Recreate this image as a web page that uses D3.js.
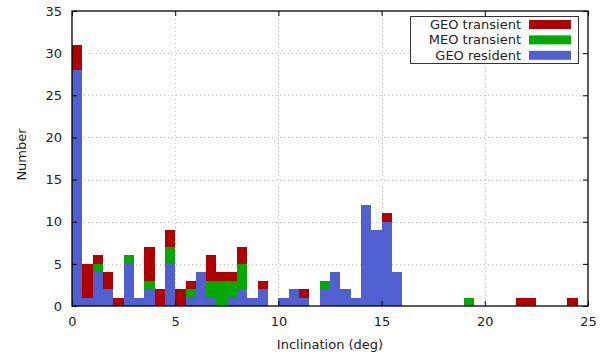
<!DOCTYPE html>
<html>
<head>
<meta charset="utf-8">
<script src="https://cdn.jsdelivr.net/npm/d3@7"></script>
<style>
  html, body { margin: 0; padding: 0; background: #fff; }
  svg { display: block; font-family: "DejaVu Sans", sans-serif; }
</style>
</head>
<body>
<svg id="chart" width="610" height="360"></svg>
<script>
// Lower edges of the 0.5-degree inclination bins (deg)
const binStarts = [
  0, 0.5, 1, 1.5, 2, 2.5, 3, 3.5, 4, 4.5,
  5, 5.5, 6, 6.5, 7, 7.5, 8, 8.5, 9, 9.5,
  10, 10.5, 11, 11.5, 12, 12.5, 13, 13.5, 14, 14.5,
  15, 15.5, 16, 16.5, 17, 17.5, 18, 18.5, 19, 19.5,
  20, 20.5, 21, 21.5, 22, 22.5, 23, 23.5, 24, 24.5
];
const binWidth = 0.5;

// Object counts per bin
const geoResident = [
  28, 1, 4, 2, 0, 5, 1, 2, 0, 5,
  0, 1, 4, 1, 0, 1, 2, 1, 2, 0,
  1, 2, 1, 0, 2, 4, 2, 1, 12, 9,
  10, 4, 0, 0, 0, 0, 0, 0, 0, 0,
  0, 0, 0, 0, 0, 0, 0, 0, 0, 0
];
const meoTransient = [
  0, 0, 1, 0, 0, 1, 0, 1, 0, 2,
  0, 1, 0, 2, 3, 2, 3, 0, 0, 0,
  0, 0, 0, 0, 1, 0, 0, 0, 0, 0,
  0, 0, 0, 0, 0, 0, 0, 0, 1, 0,
  0, 0, 0, 0, 0, 0, 0, 0, 0, 0
];
const geoTransient = [
  3, 4, 1, 2, 1, 0, 0, 4, 2, 2,
  2, 1, 0, 3, 1, 1, 2, 0, 1, 0,
  0, 0, 1, 0, 0, 0, 0, 0, 0, 0,
  1, 0, 0, 0, 0, 0, 0, 0, 0, 0,
  0, 0, 0, 1, 1, 0, 0, 0, 1, 0
];

const seriesNames = ["GEO resident", "MEO transient", "GEO transient"];
const seriesColors = ["#5060d0", "#00aa00", "#b00000"];
const legendOrder = ["GEO transient", "MEO transient", "GEO resident"];

const xTicks = [0, 5, 10, 15, 20, 25];
const yTicks = [0, 5, 10, 15, 20, 25, 30, 35];

const rows = binStarts.map((b, i) => ({
  x0: b,
  "GEO resident": geoResident[i],
  "MEO transient": meoTransient[i],
  "GEO transient": geoTransient[i]
}));

const svg = d3.select("#chart");
const plotLeft = 72, plotRight = 588, plotTop = 11, plotBottom = 306;

const x = d3.scaleLinear().domain([0, 25]).range([plotLeft, plotRight]);
const y = d3.scaleLinear().domain([0, 35]).range([plotBottom, plotTop]);
const color = d3.scaleOrdinal().domain(seriesNames).range(seriesColors);

// Dotted grid
const grid = svg.append("g").attr("stroke", "#c4c4c4").attr("stroke-width", 1)
  .attr("stroke-dasharray", "1,3");
grid.selectAll("line.gx").data(xTicks.filter(t => t > 0 && t < 25)).join("line")
  .attr("x1", d => Math.round(x(d)) + 0.5).attr("x2", d => Math.round(x(d)) + 0.5)
  .attr("y1", plotTop).attr("y2", plotBottom);
grid.selectAll("line.gy").data(yTicks.filter(t => t > 0 && t < 35)).join("line")
  .attr("y1", d => Math.round(y(d)) + 0.5).attr("y2", d => Math.round(y(d)) + 0.5)
  .attr("x1", plotLeft).attr("x2", plotRight);

// Stacked histogram bars
const stacked = d3.stack().keys(seriesNames)(rows);
svg.append("g").attr("shape-rendering", "crispEdges")
  .selectAll("g").data(stacked).join("g")
  .attr("fill", d => color(d.key))
  .selectAll("rect").data(d => d.filter(s => s[1] > s[0])).join("rect")
  .attr("x", d => x(d.data.x0))
  .attr("width", d => x(d.data.x0 + binWidth) - x(d.data.x0))
  .attr("y", d => y(d[1]))
  .attr("height", d => y(d[0]) - y(d[1]));

// Axes with inward ticks, mirrored on top and right
const styleAxis = g => {
  g.select(".domain").remove();
  g.selectAll(".tick line").attr("stroke", "#000");
  g.selectAll(".tick text").attr("fill", "#222").attr("font-size", 13)
    .attr("font-family", "DejaVu Sans, sans-serif");
};
svg.append("g").attr("transform", `translate(0,${plotBottom})`)
  .call(d3.axisBottom(x).tickValues(xTicks).tickSize(-5).tickPadding(11).tickFormat(d3.format("d")))
  .call(styleAxis);
svg.append("g").attr("transform", `translate(${plotLeft},0)`)
  .call(d3.axisLeft(y).tickValues(yTicks).tickSize(-5).tickPadding(10).tickFormat(d3.format("d")))
  .call(styleAxis);
svg.append("g").attr("transform", `translate(0,${plotTop})`)
  .call(d3.axisTop(x).tickValues(xTicks).tickSize(-5).tickFormat(""))
  .call(styleAxis);
svg.append("g").attr("transform", `translate(${plotRight},0)`)
  .call(d3.axisRight(y).tickValues(yTicks).tickSize(-5).tickFormat(""))
  .call(styleAxis);

// Plot frame
svg.append("rect")
  .attr("x", plotLeft).attr("y", plotTop)
  .attr("width", plotRight - plotLeft).attr("height", plotBottom - plotTop)
  .attr("fill", "none").attr("stroke", "#000").attr("stroke-width", 1.3);

// Axis titles
svg.append("text")
  .attr("x", (plotLeft + plotRight) / 2).attr("y", 349)
  .attr("text-anchor", "middle").attr("font-size", 13).attr("fill", "#222")
  .text("Inclination (deg)");
svg.append("text")
  .attr("transform", `translate(26,${(plotTop + plotBottom) / 2 - 4}) rotate(-90)`)
  .attr("text-anchor", "middle").attr("font-size", 13).attr("fill", "#222")
  .text("Number");

// Legend
const legend = svg.append("g");
legend.append("rect")
  .attr("x", 410.5).attr("y", 16.5).attr("width", 168).attr("height", 47)
  .attr("fill", "#fff").attr("stroke", "#333").attr("stroke-width", 1);
const item = legend.selectAll("g.item").data(legendOrder).join("g")
  .attr("transform", (d, i) => `translate(0,${29 + i * 15.4})`);
item.append("text")
  .attr("x", 521).attr("y", 0)
  .attr("text-anchor", "end").attr("font-size", 13).attr("fill", "#222")
  .text(d => d);
item.append("rect")
  .attr("x", 529).attr("y", -9).attr("width", 42).attr("height", 9)
  .attr("fill", d => color(d));
</script>
</body>
</html>
